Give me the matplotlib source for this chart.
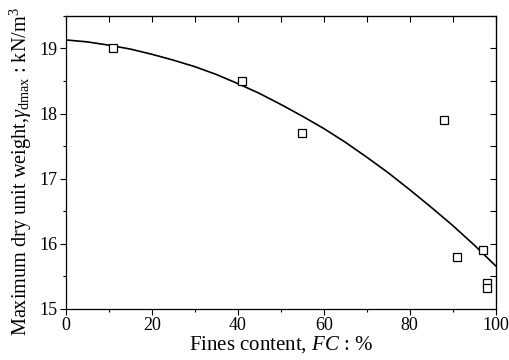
import matplotlib
matplotlib.use("Agg")
import matplotlib.pyplot as plt
from matplotlib.ticker import MultipleLocator

plt.rcParams['font.family'] = ['Liberation Serif', 'DejaVu Serif']
plt.rcParams['mathtext.fontset'] = 'custom'
plt.rcParams['mathtext.rm'] = 'Liberation Serif'
plt.rcParams['mathtext.it'] = 'Liberation Serif:italic'

# measured points
fc = [11, 41, 55, 88, 91, 97, 98, 98]
gdmax = [19.0, 18.5, 17.7, 17.9, 15.8, 15.9, 15.4, 15.32]

# fitted curve
fit_x = [0, 5, 10, 15, 20, 25, 30, 35, 40, 45, 50, 55, 60, 65, 70, 75, 80, 85, 90, 95, 100]
fit_y = [19.13, 19.10, 19.05, 18.99, 18.91, 18.82, 18.72, 18.60, 18.46, 18.31, 18.14,
         17.96, 17.77, 17.56, 17.33, 17.09, 16.83, 16.56, 16.28, 15.98, 15.66]

fig = plt.figure(figsize=(5.1, 3.6), dpi=100)
ax = fig.add_axes([0.129, 0.142, 0.843, 0.814])

ax.plot(fit_x, fit_y, color="black", lw=1.2)
ax.plot(fc, gdmax, ls="none", marker="s", ms=6, mfc="white", mec="black", mew=0.9)

ax.set_xlim(0, 100)
ax.set_ylim(15, 19.5)
ax.xaxis.set_major_locator(MultipleLocator(20))
ax.xaxis.set_minor_locator(MultipleLocator(10))
ax.yaxis.set_major_locator(MultipleLocator(1))
ax.yaxis.set_minor_locator(MultipleLocator(0.5))
ax.tick_params(which="both", labelsize=13, width=0.8, direction="out", pad=2)
ax.tick_params(which="major", length=4)
ax.tick_params(which="minor", length=2.5)

# mirrored ticks on top/right pointing inward
secx = ax.secondary_xaxis("top")
secx.xaxis.set_major_locator(MultipleLocator(20))
secx.xaxis.set_minor_locator(MultipleLocator(10))
secx.tick_params(which="both", direction="in", labeltop=False, width=0.8)
secx.tick_params(which="major", length=4)
secx.tick_params(which="minor", length=4)
secy = ax.secondary_yaxis("right")
secy.yaxis.set_major_locator(MultipleLocator(1))
secy.yaxis.set_minor_locator(MultipleLocator(0.5))
secy.tick_params(which="both", direction="in", labelright=False, width=0.8)
secy.tick_params(which="major", length=4)
secy.tick_params(which="minor", length=4)

for s in ax.spines.values():
    s.set_linewidth(0.9)

ax.set_xlabel("Fines content, $\\mathit{FC}$ : %", fontsize=15, labelpad=0)
ax.set_ylabel("Maximum dry unit weight,$\\gamma_{\\mathrm{dmax}}$ : kN/m$^3$", fontsize=14.6)
ax.yaxis.set_label_coords(-0.075, 0.468)

fig.savefig("out.png", dpi=100)
